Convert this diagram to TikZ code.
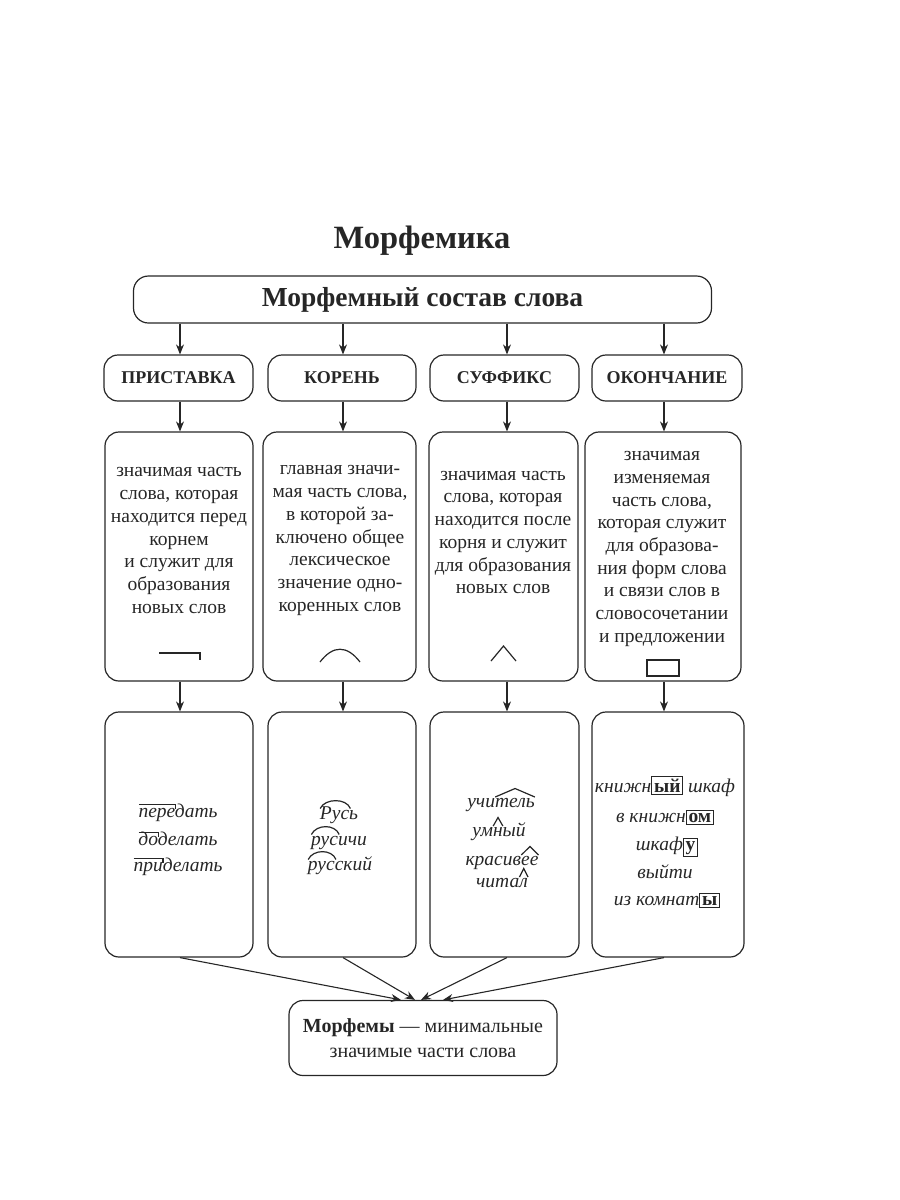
\documentclass[tikz,border=0pt]{standalone}
\usepackage{fontspec}
\setmainfont{Liberation Serif}
\usetikzlibrary{arrows.meta,calc}
\definecolor{ink}{HTML}{262626}
\newcommand\exw[6]{%
  \node[ex] (#1) at (#2,#3) {#4};
  \node[ghost] (#1a) at (#1.base west) {\phantom{#5}};
  \node[ghost] (#1b) at (#1.base west) {\phantom{#6}};}
\newcommand\morphbx[1]{{\setlength\fboxsep{1.8pt}\setlength\fboxrule{0.9pt}\fbox{\upshape\bfseries #1}}}
\begin{document}
\begin{tikzpicture}[x=1pt,y=-1pt,
  every node/.style={text=ink},
  box/.style={draw=ink, line width=1.2pt, rounded corners=14pt, inner sep=0pt},
  lbl/.style={box, font=\fontsize{18}{21}\selectfont\bfseries, minimum height=46pt},
  deftext/.style={font=\fontsize{19.5}{22.7}\selectfont, align=center, inner sep=0pt},
  ex/.style={font=\fontsize{19.5}{23}\selectfont\itshape, inner sep=0pt, anchor=base},
  ghost/.style={font=\fontsize{19.5}{23}\selectfont\itshape, inner sep=0pt, anchor=base west},
  arr/.style={draw=ink, line width=1.1pt, -{Stealth[length=10pt,width=8pt]}},
  mk/.style={draw=ink, line width=1.2pt},
]
\useasboundingbox (0,0) rectangle (900,1200);
\coordinate (x1) at (180,0);
\coordinate (x2) at (343,0);
\coordinate (x3) at (507,0);
\coordinate (x4) at (664,0);

\node[font=\fontsize{32.5}{36}\selectfont\bfseries] (title) at (422,241) {Морфемика};

\node[box, rounded corners=15pt, minimum width=578pt, minimum height=47pt,
      font=\fontsize{27.5}{30}\selectfont\bfseries] (top) at (422.5,299.5) {Морфемный состав слова};

\node[lbl, minimum width=149pt] (l1) at (178.5,378) {ПРИСТАВКА};
\node[lbl, minimum width=148pt] (l2) at (342,378) {КОРЕНЬ};
\node[lbl, minimum width=149pt] (l3) at (504.5,378) {СУФФИКС};
\node[lbl, minimum width=150pt] (l4) at (667,378) {ОКОНЧАНИЕ};

\node[box, minimum width=148pt, minimum height=249pt] (d1) at (179,556.5) {};
\node[box, minimum width=153pt, minimum height=249pt] (d2) at (339.5,556.5) {};
\node[box, minimum width=149pt, minimum height=249pt] (d3) at (503.5,556.5) {};
\node[box, minimum width=156pt, minimum height=249pt] (d4) at (663,556.5) {};

\node[deftext] (t1) at (179,540.5) {значимая часть\\слова, которая\\находится перед\\корнем\\и служит для\\образования\\новых слов};
\node[deftext] (t2) at (340,540.5) {главная значи-\\мая часть слова,\\в которой за-\\ключено общее\\лексическое\\значение одно-\\коренных слов};
\node[deftext] (t3) at (503,532.5) {значимая часть\\слова, которая\\находится после\\корня и служит\\для образования\\новых слов};
\node[deftext] (t4) at (662,549) {значимая\\изменяемая\\часть слова,\\которая служит\\для образова-\\ния форм слова\\и связи слов в\\словосочетании\\и предложении};

% morpheme symbols
\draw[mk] (159,653) -- (200,653) -- (200,660);
\draw[mk] (320,662) .. controls (333,645) and (347,645) .. (360,662);
\draw[mk] (491,661) -- (503.5,646) -- (516,661);
\draw[mk] (647,660) rectangle (679,676);

\node[box, minimum width=148pt, minimum height=245pt] (e1) at (179,834.5) {};
\node[box, minimum width=148pt, minimum height=245pt] (e2) at (342,834.5) {};
\node[box, minimum width=149pt, minimum height=245pt] (e3) at (504.5,834.5) {};
\node[box, minimum width=152pt, minimum height=245pt] (e4) at (668,834.5) {};

% prefixes
\exw{p1}{178}{817}{передать}{}{пере}
\exw{p2}{178}{845}{доделать}{}{до}
\exw{p3}{178}{871}{приделать}{}{при}
\foreach \w in {p1,p2,p3}{
  \draw[mk] ($(\w a.base east)+(-1,-12.5)$) -- ($(\w b.base east)+(0,-12.5)$) -- ++(0,4.5);
}
% roots
\exw{r1}{339}{819}{Русь}{}{Рус}
\exw{r2}{339}{845}{русичи}{}{рус}
\exw{r3}{340}{870}{русский}{}{рус}
\foreach \w in {r1,r2,r3}{
  \draw[mk] ($(\w a.base east)+(-1,-10.5)$) .. controls ($(\w a.base east)+(4,-21)$) and ($(\w b.base east)+(-3,-21)$) .. ($(\w b.base east)+(1,-10.5)$);
}
% suffixes
\exw{s1}{501}{807}{учитель}{учи}{учитель}
\exw{s2}{499}{836}{умный}{ум}{умн}
\exw{s3}{502}{865}{красивее}{красив}{красивее}
\exw{s4}{502}{887}{читал}{чита}{читал}
\foreach \w in {s1,s2,s3,s4}{
  \draw[mk] ($(\w a.base east)+(0,-10)$) -- ($(\w a.base east)!.5!(\w b.base east)+(0,-18.5)$) -- ($(\w b.base east)+(0,-10)$);
}
% endings
\node[ex] (k1) at (665,792) {книжн\morphbx{ый} шкаф};
\node[ex] (k2) at (665,822) {в книжн\morphbx{ом}};
\node[ex] (k3) at (667,850) {шкаф\morphbx{у}};
\node[ex] (k4) at (665,878) {выйти};
\node[ex] (k5) at (667,905) {из комнат\morphbx{ы}};

\node[box, minimum width=268pt, minimum height=75pt, align=center,
      font=\fontsize{20}{24.5}\selectfont] (res) at (423,1038)
      {\textbf{Морфемы} — минимальные\\значимые части слова};

% arrows
\foreach \i in {1,2,3,4}{
  \draw[arr] (top.south -| x\i) -- (l\i.north -| x\i);
  \draw[arr] (l\i.south -| x\i) -- (d\i.north -| x\i);
  \draw[arr] (d\i.south -| x\i) -- (e\i.north -| x\i);
}
\draw[arr] (e1.south -| x1) -- ([xshift=-22pt]res.north);
\draw[arr] (e2.south -| x2) -- ([xshift=-8pt]res.north);
\draw[arr] (e3.south -| x3) -- ([xshift=-2pt]res.north);
\draw[arr] (e4.south -| x4) -- ([xshift=20pt]res.north);
\end{tikzpicture}
\end{document}
